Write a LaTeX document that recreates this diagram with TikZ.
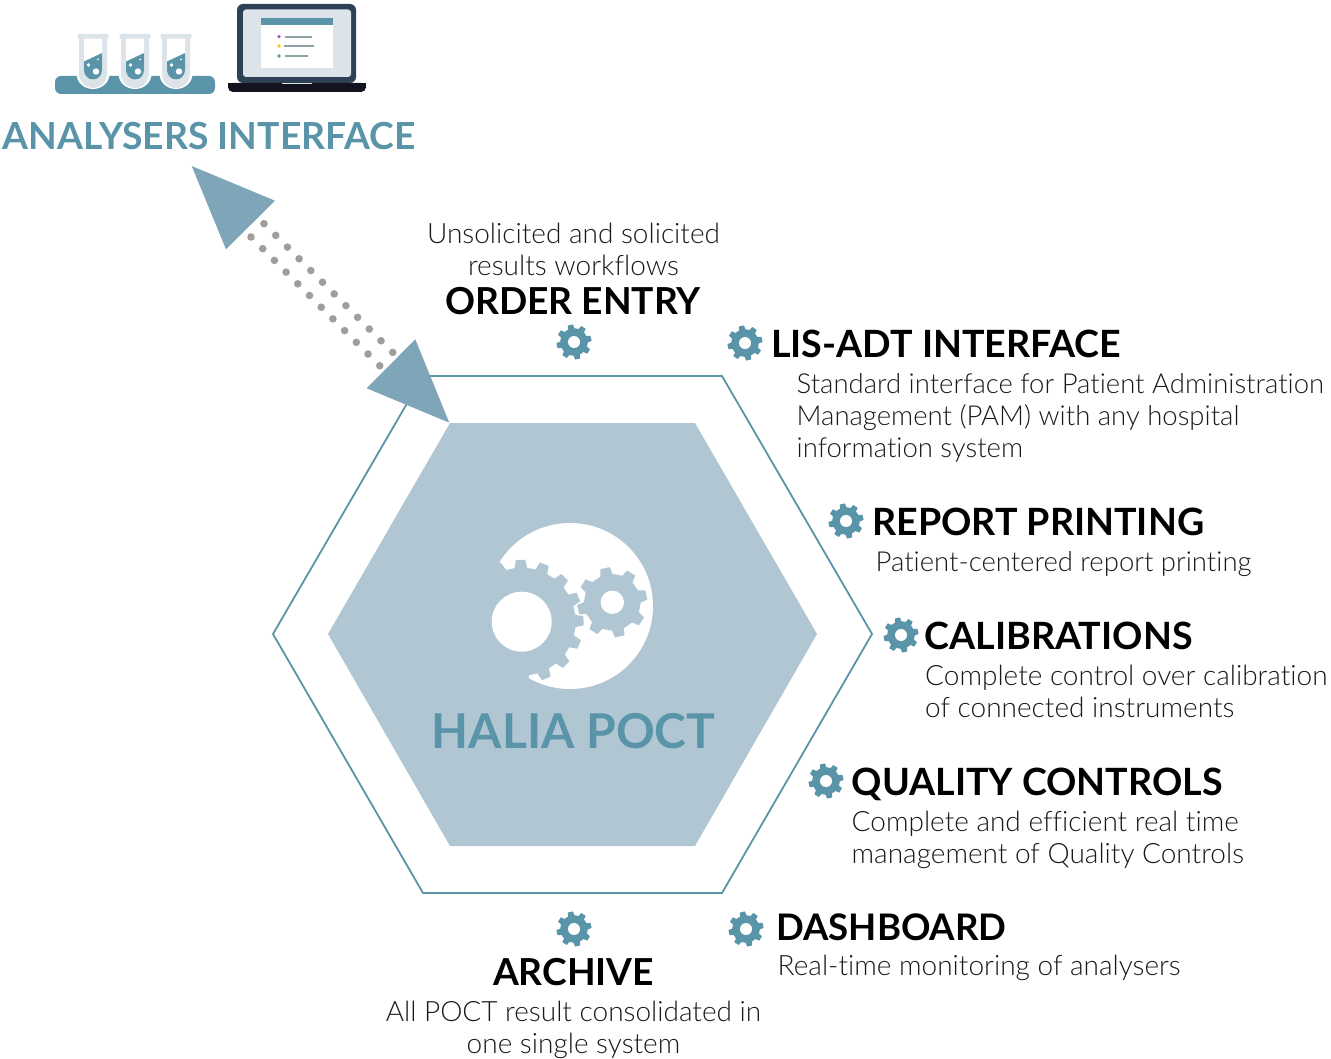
\documentclass[tikz,border=0pt]{standalone}
\usepackage{fontspec}
\setmainfont{Lato Light}[Ligatures=NoCommon]
\newfontfamily\headfont{Lato Bold}
\definecolor{teal}{HTML}{5A94A8}
\definecolor{hexfill}{HTML}{B0C7D3}
\definecolor{arrowfill}{HTML}{7FA6B8}
\definecolor{dotgrey}{HTML}{A09E9C}
\definecolor{tubegrey}{HTML}{DCE3E9}
\definecolor{laptopdark}{HTML}{2E4257}
\definecolor{laptopbase}{HTML}{13131F}
\definecolor{linegrey}{HTML}{8FA3A6}
\definecolor{dotpurple}{HTML}{9B4FB0}
\definecolor{dotyellow}{HTML}{FFC60B}
% gear: [style] centre x, y; teeth; phase; root r; outer r
\newcommand{\gearpath}[7][]{%
  \pgfmathsetmacro{\gstep}{360/#4}%
  \pgfmathsetmacro{\gn}{int(#4-1)}%
  \path[#1] ({#2+#6*cos(#5-0.30*\gstep)},{#3+#6*sin(#5-0.30*\gstep)})
   foreach \gi in {0,...,\gn} {
    -- ({#2+#6*cos(#5+\gi*\gstep-0.30*\gstep)},{#3+#6*sin(#5+\gi*\gstep-0.30*\gstep)})
    -- ({#2+#7*cos(#5+\gi*\gstep-0.19*\gstep)},{#3+#7*sin(#5+\gi*\gstep-0.19*\gstep)})
    -- ({#2+#7*cos(#5+\gi*\gstep+0.19*\gstep)},{#3+#7*sin(#5+\gi*\gstep+0.19*\gstep)})
    -- ({#2+#6*cos(#5+\gi*\gstep+0.30*\gstep)},{#3+#6*sin(#5+\gi*\gstep+0.30*\gstep)})
   } -- cycle;}
\newcommand{\smallgear}[2]{%
  \gearpath[fill=teal]{#1}{#2}{8}{-12}{13.8}{17.6}%
  \fill[white] (#1,#2) circle (6);}
\newcommand{\testtube}[1]{%
  \fill[white] (#1-16.5,70) -- (#1-16.5,74) arc (180:0:16.5 and 15) -- (#1+16.5,70) -- cycle;
  \fill[tubegrey] (#1-14,38) -- (#1-14,73) arc (180:0:14 and 15) -- (#1+14,38) -- cycle;
  \fill[tubegrey,rounded corners=1] (#1-15.5,34) rectangle (#1+15.5,38.6);
  \fill[white] (#1-9,38.6) -- (#1-9,70) arc (180:0:9 and 9.5) -- (#1+9,38.6) -- cycle;
  \fill[teal] (#1-9,61.5) -- (#1+8,53.5) -- (#1+9,53.5) -- (#1+9,70) arc (0:180:9 and 9.5) -- cycle;
  \fill[white] (#1+3,71.5) circle (3.2);
  \fill[white] (#1-4.5,65) circle (1.8);
  \fill[white] (#1+5,59.5) circle (1);}
\tikzset{
  titletext/.style={anchor=base west,inner sep=0,font=\headfont\fontsize{37.6}{40}\selectfont,text=black},
  titlenarrow/.style={titletext,font=\headfont\fontsize{36.6}{40}\selectfont},
  bodytext/.style={anchor=north west,inner sep=0,align=left,font=\fontsize{28}{32}\selectfont,text=black!90},
  bodysmaller/.style={bodytext,font=\fontsize{27.5}{32}\selectfont},
  centertitle/.style={titletext,anchor=base,font=\headfont\fontsize{37.2}{40}\selectfont},
  centerbody/.style={bodytext,anchor=north,align=center},
  dotline/.style={draw=dotgrey,line width=7.6pt,line cap=round,dash pattern=on 0pt off 16.55pt},
  arrowtri/.style={fill=arrowfill},
}
\begin{document}
\begin{tikzpicture}[x=1pt,y=-1pt]
\useasboundingbox (0,0) rectangle (1331,1059);
% hexagons
\coordinate (oa) at (273,634); \coordinate (ob) at (423,376); \coordinate (oc) at (722,376);
\coordinate (od) at (872,634); \coordinate (oe) at (722,893); \coordinate (of) at (423,893);
\draw[teal,line width=1.8pt,line join=miter] (oa)--(ob)--(oc)--(od)--(oe)--(of)--cycle;
\fill[hexfill] (328,634)--(450,423)--(695,423)--(817,634)--(695,846)--(450,846)--cycle;
% central emblem
\fill[white] (570,606) circle (83);
\gearpath[fill=hexfill]{521.7}{621.7}{16}{-1}{54}{62}
\fill[hexfill] (521.7,621.7) -- ++(-110:64) arc (-110:-277:64) -- cycle;
\fill[white] (521.7,621.7) circle (30);
\gearpath[fill=hexfill,draw=white,line width=1.2pt]{612.3}{602.3}{8}{-12}{29}{36}
\fill[white] (612.3,602.3) circle (11.7);
\node[anchor=base,inner sep=0,text=teal,font=\headfont\fontsize{48}{54}\selectfont] (halia) at (573.5,748) {HALIA POCT};
% double arrow
\coordinate (d1a) at (264,223.7); \coordinate (d1b) at (393,352.7);
\coordinate (d2a) at (251,237);   \coordinate (d2b) at (380,366);
\draw[dotline] (d1a) -- (d1b);
\draw[dotline] (d2a) -- (d2b);
\fill[arrowtri] (191.7,166)--(275,200.7)--(226,249.3)--cycle;
\fill[arrowtri] (415.3,339.3)--(449.3,422.7)--(366.7,388.3)--cycle;
% test tubes
\fill[teal,rounded corners=6] (55,76) rectangle (215,94);
\testtube{93}
\testtube{135}
\testtube{176}
% laptop
\fill[laptopdark,rounded corners=6] (237,4) rectangle (356,83);
\fill[tubegrey,rounded corners=3] (243,9.5) rectangle (351,77);
\fill[white] (261,18) rectangle (333,68);
\fill[teal] (261,18) rectangle (333,25);
\fill[laptopbase,rounded corners=5] (228,83) -- (228,92) -- (366,92) -- (366,83) -- cycle;
\fill[laptopbase] (228,83) rectangle (366,87);
\fill[tubegrey] (282,83) rectangle (312,84.5);
\fill[dotpurple] (279,36.7) circle (1.8);
\fill[dotyellow] (279,46) circle (1.8);
\fill[teal] (279,56) circle (1.8);
\draw[linegrey,line width=1.4pt] (285,37)--(312,37) (284,46)--(314,46) (285,56)--(308,56);
\node[anchor=base west,inner sep=0,text=teal,font=\headfont\fontsize{37.3}{40}\selectfont] (analysers) at (2.5,150) {ANALYSERS INTERFACE};
% gears
\smallgear{574}{342}
\smallgear{745}{343}
\smallgear{846}{521}
\smallgear{901}{635}
\smallgear{826}{781}
\smallgear{746}{929}
\smallgear{574}{929}
% labels
\node[centerbody] (bo) at (573.5,223) {Unsolicited and solicited\\results workflows};
\node[centertitle] (to) at (573,315) {ORDER ENTRY};
\node[titletext] (tl) at (771,357) {LIS-ADT INTERFACE};
\node[bodysmaller] (bl) at (796.5,373) {Standard interface for Patient Administration\\Management (PAM) with any hospital\\information system};
\node[titletext] (tr) at (872,535) {REPORT PRINTING};
\node[bodysmaller] (br) at (875.5,551) {Patient-centered report printing};
\node[titletext] (tc) at (924.5,649) {CALIBRATIONS};
\node[bodytext] (bc) at (925,665) {Complete control over calibration\\of connected instruments};
\node[titletext] (tq) at (851.5,795) {QUALITY CONTROLS};
\node[bodytext] (bq) at (851.5,811) {Complete and efficient real time\\management of Quality Controls};
\node[titlenarrow] (td) at (776,940) {DASHBOARD};
\node[bodytext] (bd) at (777.5,955) {Real-time monitoring of analysers};
\node[centertitle] (ta) at (573.5,985) {ARCHIVE};
\node[centerbody] (ba) at (573.5,1001) {All POCT result consolidated in\\one single system};
\end{tikzpicture}
\end{document}
